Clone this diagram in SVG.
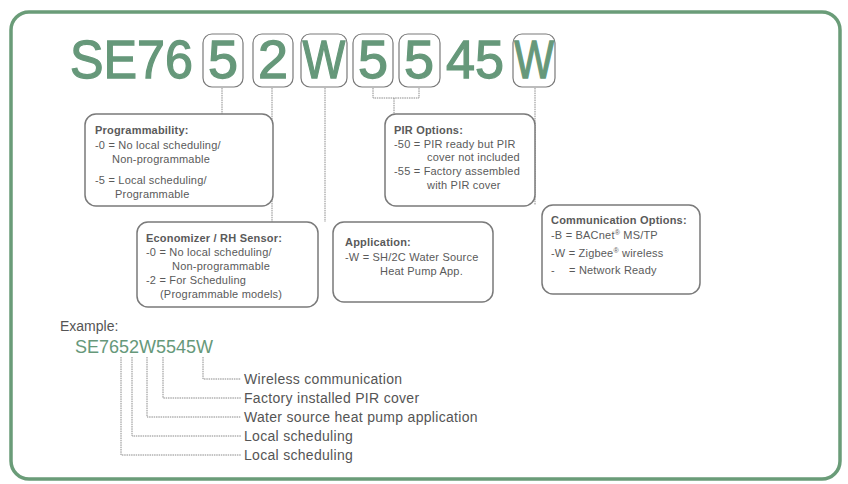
<svg xmlns="http://www.w3.org/2000/svg" width="848" height="484" viewBox="0 0 848 484">
<style>
.big{font-family:"Liberation Sans",Arial,sans-serif;font-size:54px;fill:#66987a;stroke:#66987a;stroke-width:1.3;text-anchor:middle}
.bigs{font-family:"Liberation Sans",Arial,sans-serif;font-size:54px;fill:#66987a;stroke:#66987a;stroke-width:1.3}
.cbox{fill:none;stroke:#7a7a7a;stroke-width:1.2}
.ibox{fill:#fff;stroke:#7a7a7a;stroke-width:1.5}
.t{font-family:"Liberation Sans",Arial,sans-serif;font-size:11px;letter-spacing:0.2px;fill:#5a5a5a}
.h{font-family:"Liberation Sans",Arial,sans-serif;font-size:11px;letter-spacing:0.2px;fill:#5a5a5a;font-weight:bold}
.lbl{font-family:"Liberation Sans",Arial,sans-serif;font-size:14px;letter-spacing:0.3px;fill:#555}
.ln{fill:none;stroke:#8a8a8a;stroke-width:1;stroke-dasharray:1.5 0.8}
.sup{font-size:7px}
</style>
<rect x="11" y="12" width="829" height="467" rx="18" ry="18" fill="#fff" stroke="#6a9c78" stroke-width="3.5"/>

<g id="model">
<text class="bigs" x="70" y="78" textLength="123" lengthAdjust="spacingAndGlyphs">SE76</text>
<rect class="cbox" x="203" y="34" width="40" height="53" rx="9"/>
<text class="big" x="223" y="78">5</text>
<rect class="cbox" x="253" y="34" width="40" height="53" rx="9"/>
<text class="big" x="273" y="78">2</text>
<rect class="cbox" x="301" y="34" width="46" height="53" rx="9"/>
<text class="big" transform="translate(324 78) scale(0.84 1)">W</text>
<rect class="cbox" x="353" y="34" width="40" height="53" rx="9"/>
<text class="big" x="373" y="78">5</text>
<rect class="cbox" x="399" y="34" width="41" height="53" rx="9"/>
<text class="big" x="419" y="78">5</text>
<text class="bigs" x="446" y="78" textLength="58" lengthAdjust="spacingAndGlyphs">45</text>
<rect class="cbox" x="513" y="34" width="42" height="53" rx="9"/>
<text class="big" transform="translate(534 78) scale(0.78 1)">W</text>
</g>

<g id="connectors">
<path class="ln" d="M222 88V114"/>
<path class="ln" d="M272 88V222"/>
<path class="ln" d="M325 88V222"/>
<path class="ln" d="M373 88V98H419V88M394 98V114"/>
<path class="ln" d="M535 88V205"/>
<path class="ln" d="M121 357V455H241"/>
<path class="ln" d="M132 357V436H241"/>
<path class="ln" d="M147 357V417H241"/>
<path class="ln" d="M163 357V398H241"/>
<path class="ln" d="M203 357V379H241"/>
</g>

<g id="programmability">
<rect class="ibox" x="85" y="114" width="188" height="92" rx="11"/>
<text class="h" x="95" y="134">Programmability:</text>
<text class="t" x="95" y="149">-0 = No local scheduling/</text>
<text class="t" x="112" y="163">Non-programmable</text>
<text class="t" x="95" y="184">-5 = Local scheduling/</text>
<text class="t" x="115" y="198">Programmable</text>
</g>

<g id="economizer">
<rect class="ibox" x="137" y="222" width="181" height="85" rx="11"/>
<text class="h" x="146" y="242">Economizer / RH Sensor:</text>
<text class="t" x="146" y="256">-0 = No local scheduling/</text>
<text class="t" x="172" y="270">Non-programmable</text>
<text class="t" x="146" y="284">-2 = For Scheduling</text>
<text class="t" x="160" y="298">(Programmable models)</text>
</g>

<g id="pir">
<rect class="ibox" x="385" y="114" width="150" height="92" rx="11"/>
<text class="h" x="394" y="134">PIR Options:</text>
<text class="t" x="394" y="148">-50 = PIR ready but PIR</text>
<text class="t" x="427" y="161">cover not included</text>
<text class="t" x="394" y="175">-55 = Factory assembled</text>
<text class="t" x="427" y="189">with PIR cover</text>
</g>

<g id="application">
<rect class="ibox" x="333" y="222" width="160" height="80" rx="11"/>
<text class="h" x="345" y="246">Application:</text>
<text class="t" x="345" y="261">-W = SH/2C Water Source</text>
<text class="t" x="380" y="275">Heat Pump App.</text>
</g>

<g id="communication">
<rect class="ibox" x="542" y="205" width="158" height="89" rx="11"/>
<text class="h" x="551" y="224">Communication Options:</text>
<text class="t" x="551" y="239">-B = BACnet<tspan class="sup" dy="-4">®</tspan><tspan dy="4"> MS/TP</tspan></text>
<text class="t" x="551" y="257">-W = Zigbee<tspan class="sup" dy="-4">®</tspan><tspan dy="4"> wireless</tspan></text>
<text class="t" x="551" y="274">-</text>
<text class="t" x="569" y="274">= Network Ready</text>
</g>

<g id="example">
<text class="lbl" x="60" y="331" style="letter-spacing:0">Example:</text>
<text x="75" y="353" style="font-family:'Liberation Sans',Arial,sans-serif;font-size:18px;fill:#66987a">SE7652W5545W</text>
<text class="lbl" x="244" y="384">Wireless communication</text>
<text class="lbl" x="244" y="403">Factory installed PIR cover</text>
<text class="lbl" x="244" y="422">Water source heat pump application</text>
<text class="lbl" x="244" y="441">Local scheduling</text>
<text class="lbl" x="244" y="460">Local scheduling</text>
</g>
</svg>
